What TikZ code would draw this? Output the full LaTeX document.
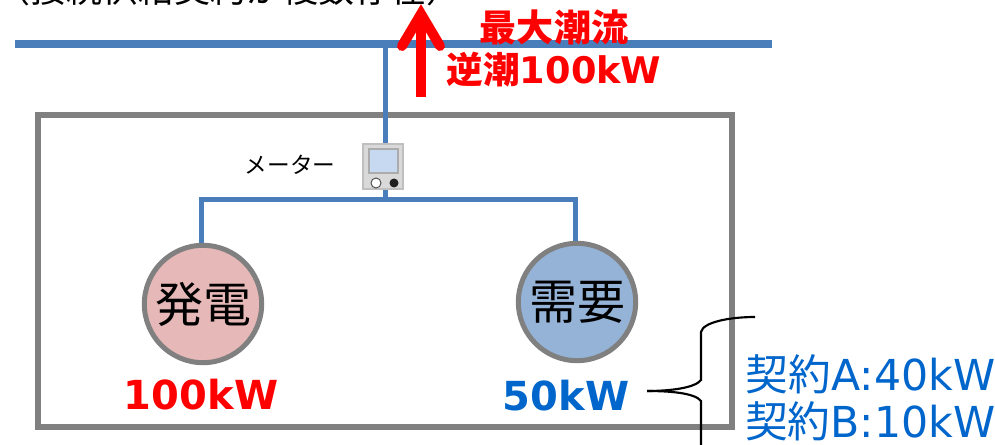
\documentclass[tikz,border=0pt]{standalone}
\usepackage{fontspec}
\usepackage{xcolor}
\setmainfont{DejaVu Sans}
\newfontfamily\cjk{Noto Sans CJK JP}
\usetikzlibrary{arrows,positioning,calc}
\definecolor{linecol}{RGB}{74,126,187}
\definecolor{framecol}{RGB}{128,128,128}
\definecolor{gencol}{RGB}{230,184,183}
\definecolor{loadcol}{RGB}{149,179,215}
\definecolor{valcol}{RGB}{0,102,204}
\definecolor{screencol}{RGB}{198,217,240}
\begin{document}
\begin{tikzpicture}[x=0.75pt,y=-0.75pt,wire/.style={draw=linecol, line width=3.75pt}]
        \tikzstyle{vertex} = [draw=framecol, circle, line width=3.75pt, minimum size=88pt, inner sep=0pt, text=black, font=\cjk\fontsize{36}{36}\selectfont]
        \useasboundingbox (0,0) rectangle (995,445);
        \clip (0,0) rectangle (995,445);
        \node[anchor=center, font=\cjk\fontsize{27}{27}\selectfont] (note) at (228,-11) {（接続供給契約が複数存在）};

        \draw[draw=framecol, line width=4pt] (38,115) rectangle (732,427);
        \coordinate (busl) at (15,44);
        \coordinate (busr) at (772,44);
        \draw[wire, line width=6pt] (busl) -- (busr);

        \node[vertex, fill=gencol] (gen) at (203,304) {\raisebox{-2pt}{発電}};
        \node[vertex, fill=loadcol] (load) at (577,302) {\raisebox{-1pt}{需要}};
        \node[draw=none, minimum width=30pt, minimum height=33pt, inner sep=0pt] (meter) at (383,166.5) {};
        \coordinate (tap) at (385,44);
        \coordinate (junc) at (385,200);
        \coordinate (wl) at (201,200);
        \coordinate (wr) at (575,200);

        \draw[wire] (tap) -- (tap|-meter.north);
        \draw[wire] (tap|-meter.south) -- (junc);
        \draw[wire] (wl|-gen.north) -- (wl) -- (wr) -- (wr|-load.north);

        % meter
        \fill[fill=gray!30, draw=gray!50, line width=1.5pt] (meter.south west) rectangle (meter.north east);
        \fill[fill=screencol, draw=gray!65, line width=1.5pt] (368.5,149) rectangle (398,173);
        \draw[gray!60!black, line width=0.7pt, fill=white] (376,183) circle (5);
        \fill[gray!25!black] (394,183) circle (4.5);

        \node[left = 17pt of meter, font=\cjk\fontsize{17}{17}\selectfont, yshift=1.5pt] (metertxt) {メーター};

        \coordinate (arrowtop) at (421,14);
        \coordinate (arrowbot) at (421,97);
        \coordinate (headl) at (402,46);
        \coordinate (headr) at (440,46);
        \draw[red, line width=7.5pt] (arrowbot) -- (arrowtop);
        \draw[red, line width=7.5pt, line cap=round, line join=miter] (headl) -- (arrowtop) -- (headr);

        \node[red, font=\cjk\bfseries\fontsize{27.8}{27.8}\selectfont] (maxflow) at (554,27) {最大潮流};
        \node[red, font=\bfseries\fontsize{27.5}{27.5}\selectfont] (rev) at (554,70) {{\cjk 逆潮}100kW};

        \node[red, font=\bfseries\fontsize{30}{30}\selectfont] (genval) at (201,395) {100kW};
        \node[valcol, font=\bfseries\fontsize{30}{30}\selectfont] (loadval) at (566,396) {50kW};

        \coordinate (bracetip) at (647,391);
        \coordinate (bracetop) at (755,317);
        \coordinate (bracebot) at (701,445);
        \draw[black, line width=1.6pt] (bracetip) .. controls (670,391) and (695,388) .. (701,380) -- (701,332) .. controls (703,322) and (730,317) .. (bracetop);
        \draw[black, line width=1.6pt] (bracetip) .. controls (670,391) and (695,393) .. (701,401) -- (bracebot);

        \node[valcol, font=\fontsize{32}{32}\selectfont, anchor=east] (conA) at (1000,374) {{\cjk 契約}A:40kW};
        \node[valcol, font=\fontsize{32}{32}\selectfont, anchor=east] (conB) at (1000,421) {{\cjk 契約}B:10kW};
\end{tikzpicture}
\end{document}
